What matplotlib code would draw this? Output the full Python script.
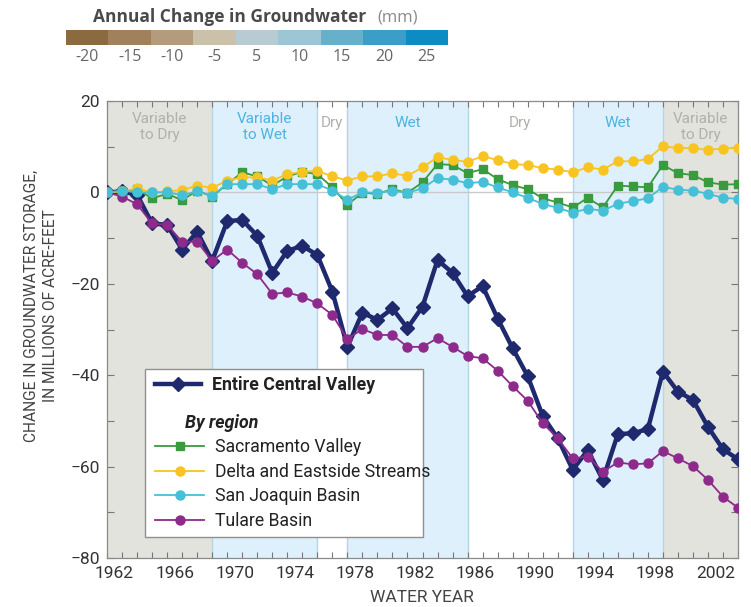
import numpy as np
import matplotlib
matplotlib.use("Agg")
import matplotlib.pyplot as plt
from matplotlib import font_manager as fm
from matplotlib.patches import Rectangle

# ---------------- data ----------------
years = list(range(1962, 2005))   # year boundaries (start of water year)
central = [0, 0.2, -0.5, -6.8, -7.1, -12.5, -8.6, -15.0, -6.3, -6.0, -9.5, -17.6, -12.8, -11.7,
           -13.7, -21.7, -33.8, -26.3, -27.9, -25.4, -29.7, -25.0, -14.8, -17.6, -22.7, -20.5,
           -27.6, -34.1, -40.2, -48.9, -53.8, -60.7, -56.4, -62.9, -52.9, -52.7, -51.8, -39.2,
           -43.6, -45.4, -51.3, -56.2, -58.4]
tulare = [0, -0.9, -2.6, -6.8, -7.1, -10.8, -10.8, -15.0, -12.5, -15.4, -17.9, -22.2, -21.9,
          -22.8, -24.3, -26.8, -32.1, -29.9, -31.2, -31.2, -33.8, -33.8, -31.9, -33.8, -35.8,
          -36.3, -39.0, -42.4, -45.6, -50.5, -53.8, -58.2, -57.8, -61.1, -59.1, -59.5, -59.3,
          -56.6, -58.2, -59.9, -62.9, -66.6, -69.0]
sacramento = [0, 0.2, 0.7, -1.3, -0.3, -1.7, 0.4, -0.9, 1.8, 4.4, 3.5, 1.5, 3.5, 4.5, 4.0, 1.1,
              -2.7, -0.1, -0.3, 0.7, -0.1, 2.2, 6.2, 6.0, 4.2, 5.1, 2.9, 1.6, 0.7, -1.3, -2.2,
              -3.3, -1.2, -3.3, 1.5, 1.3, 1.1, 6.0, 4.2, 3.8, 2.2, 1.7, 1.8]
delta = [0, 0.2, 0.9, 0.0, 0.2, 0.5, 1.5, 1.0, 2.6, 3.3, 3.3, 2.6, 4.0, 4.5, 4.7, 3.5, 2.6, 3.5,
         3.5, 4.2, 3.6, 5.5, 7.7, 7.1, 6.7, 7.9, 7.1, 6.2, 6.0, 5.3, 5.0, 4.4, 5.5, 5.0, 6.8,
         6.8, 7.3, 10.1, 9.7, 9.7, 9.3, 9.6, 9.8]
sanjoaquin = [0, 0.4, 0.0, 0.0, 0.0, -0.6, 0.2, -0.7, 1.8, 1.8, 1.8, 0.7, 1.8, 1.8, 1.8, 0.4,
              -1.6, 0.0, -0.1, 0.4, -0.1, 0.9, 3.1, 2.8, 2.0, 2.3, 1.1, 0.0, -1.2, -2.5, -3.4,
              -4.4, -3.6, -4.0, -2.5, -1.9, -1.3, 1.2, 0.6, 0.4, -0.3, -1.2, -1.4]

period_starts = [1962, 1969, 1976, 1978, 1986, 1993, 1999]
period_ends = [1969, 1976, 1978, 1986, 1993, 1999, 2004]
period_labels = ["Variable\nto Dry", "Variable\nto Wet", "Dry", "Wet", "Dry", "Wet", "Variable\nto Dry"]
period_kind = ["var", "wet", "dry", "wet", "dry", "wet", "var"]

xtick_labels = [str(y) for y in range(1962, 2003, 4)]
cbar_labels = ["-20", "-15", "-10", "-5", "5", "10", "15", "20", "25"]
cbar_colors = ["#8c6a3f", "#a0815c", "#b49b7b", "#cbc0aa", "#b9cbd2", "#9cc6d4",
               "#66b0cc", "#3a9ec8", "#0c8cc2"]

# ---------------- fonts ----------------
names = {f.name for f in fm.fontManager.ttflist}
NARROW = "Roboto" if "Roboto" in names else "DejaVu Sans"
plt.rcParams["font.family"] = [NARROW, "DejaVu Sans"]
HUMAN = "Open Sans" if "Open Sans" in names else "DejaVu Sans"

TXT = "#333333"
fig = plt.figure(figsize=(7.51, 6.07), dpi=100)
W, H = 751, 607
L, R, T, B = 107, 738, 101, 558
ax = fig.add_axes([L / W, 1 - B / H, (R - L) / W, (B - T) / H])

fill = {"var": "#e2e3dd", "wet": "#ddf0fb", "dry": "#ffffff"}
lab_col = {"var": "#b0b0ad", "wet": "#4db3e2", "dry": "#b0b0ad"}
for s, e, lab, k in zip(period_starts, period_ends, period_labels, period_kind):
    ax.axvspan(s, e, color=fill[k], zorder=0, lw=0)
    yy = 14.3 if "\n" in lab else 15.1
    ax.text((s + e) / 2, yy, lab, ha="center", va="center", color=lab_col[k],
            fontsize=11, linespacing=1.15, zorder=1)
for s in period_starts[1:]:
    ax.axvline(s, color="#b9d5e4", lw=1.0, zorder=0.5)
ax.axhline(0, color="#c9c9c9", lw=1.0, zorder=0.6)

NAVY = "#1f2a6e"
GREEN = "#3a9a3e"
YEL = "#f8c421"
CYAN = "#45c0d6"
PURP = "#8e2a8c"

l_cv, = ax.plot(years, central, color=NAVY, lw=3.2, marker="D", ms=7.5, zorder=3)
l_sac, = ax.plot(years, sacramento, color=GREEN, lw=1.3, marker="s", ms=6, zorder=4)
l_del, = ax.plot(years, delta, color=YEL, lw=1.3, marker="o", ms=6.5, zorder=4)
l_sj, = ax.plot(years, sanjoaquin, color=CYAN, lw=1.3, marker="o", ms=6.5, zorder=5)
l_tul, = ax.plot(years, tulare, color=PURP, lw=1.3, marker="o", ms=6.5, zorder=4)

ax.set_xlim(1962, 2004)
ax.set_ylim(-80, 20)
ax.set_xticks(years)
ax.set_xticklabels([])
ax.set_xticks([int(y) + 0.5 for y in xtick_labels], xtick_labels, minor=True)
ax.tick_params(axis="x", which="major", direction="in", top=True, bottom=True,
               length=4, width=0.8, color="#777777")
ax.tick_params(axis="x", which="minor", length=0, pad=6, labelsize=12.5, labelcolor=TXT)
ax.set_yticks(range(-80, 21, 20))
ax.set_yticklabels(["\u221280", "\u221260", "\u221240", "\u221220", "0", "20"])
ax.set_yticks(range(-70, 20, 20), minor=True)
ax.tick_params(axis="y", which="both", direction="in", left=True, right=True,
               length=5, width=0.8, color="#777777", labelsize=12.5, labelcolor=TXT, pad=5)
for sp in ax.spines.values():
    sp.set_color("#8a8a8a")
    sp.set_linewidth(0.9)

fig.text(41 / W, 1 - 306 / H, "CHANGE IN GROUNDWATER STORAGE,\nIN MILLIONS OF ACRE-FEET",
         rotation=90, ha="center", va="center", multialignment="center",
         fontsize=11.2, color="#444444", linespacing=1.3)
fig.text(422 / W, 1 - 598 / H, "WATER YEAR", ha="center", va="center", fontsize=12.5,
         color="#444444")

# ---------------- legend ----------------
ax.add_patch(Rectangle((0.060, 0.046), 0.441, 0.368, transform=ax.transAxes,
                       facecolor="white", edgecolor="#909090", lw=1.0, zorder=6))
leg1 = ax.legend([l_cv], ["Entire Central Valley"], loc="center left",
                 bbox_to_anchor=(0.076, 0.3786), frameon=False, borderpad=0,
                 borderaxespad=0, handlelength=2.6, handletextpad=0.6,
                 prop=dict(size=12.8, weight="bold"))
leg1.set_zorder(7)
ax.add_artist(leg1)
ax.text((185 - L) / (R - L), (B - 422.7) / (B - T), "By region", transform=ax.transAxes,
        ha="left", va="center", fontsize=12.8, fontweight="bold", fontstyle="italic",
        color="#222222", zorder=7)
leg2 = ax.legend([l_sac, l_del, l_sj, l_tul],
                 ["Sacramento Valley", "Delta and Eastside Streams", "San Joaquin Basin",
                  "Tulare Basin"], loc="upper left",
                 bbox_to_anchor=(0.076, (B - 438) / (B - T)), frameon=False, borderpad=0,
                 borderaxespad=0, handlelength=2.8, handletextpad=0.6, labelspacing=0.38,
                 prop=dict(size=12.7))
leg2.set_zorder(7)
for t in leg1.get_texts() + leg2.get_texts():
    t.set_color("#222222")

# ---------------- colour bar ----------------
cax = fig.add_axes([66 / W, 1 - 45 / H, (448 - 66) / W, 15.5 / H])
for i, c in enumerate(cbar_colors):
    cax.bar(i, 1, width=1.0, color=c, lw=0)
cax.set_xlim(-0.5, len(cbar_colors) - 0.5)
cax.set_ylim(0, 1)
cax.set_xticks(range(len(cbar_labels)), cbar_labels)
cax.set_yticks([])
cax.tick_params(axis="x", length=0, pad=3, labelsize=11.5, labelcolor="#666666")
for lab in cax.get_xticklabels():
    lab.set_family(HUMAN)
for sp in cax.spines.values():
    sp.set_visible(False)

fig.text(93 / W, 1 - 17 / H, "Annual Change in Groundwater", ha="left", va="center",
         family=HUMAN, fontsize=12.5, fontweight="bold", color="#4a4a4a")
fig.text(377 / W, 1 - 17 / H, "(mm)", ha="left", va="center", family=HUMAN,
         fontsize=12, color="#8a8a8a")

fig.savefig("out.png", dpi=100)
